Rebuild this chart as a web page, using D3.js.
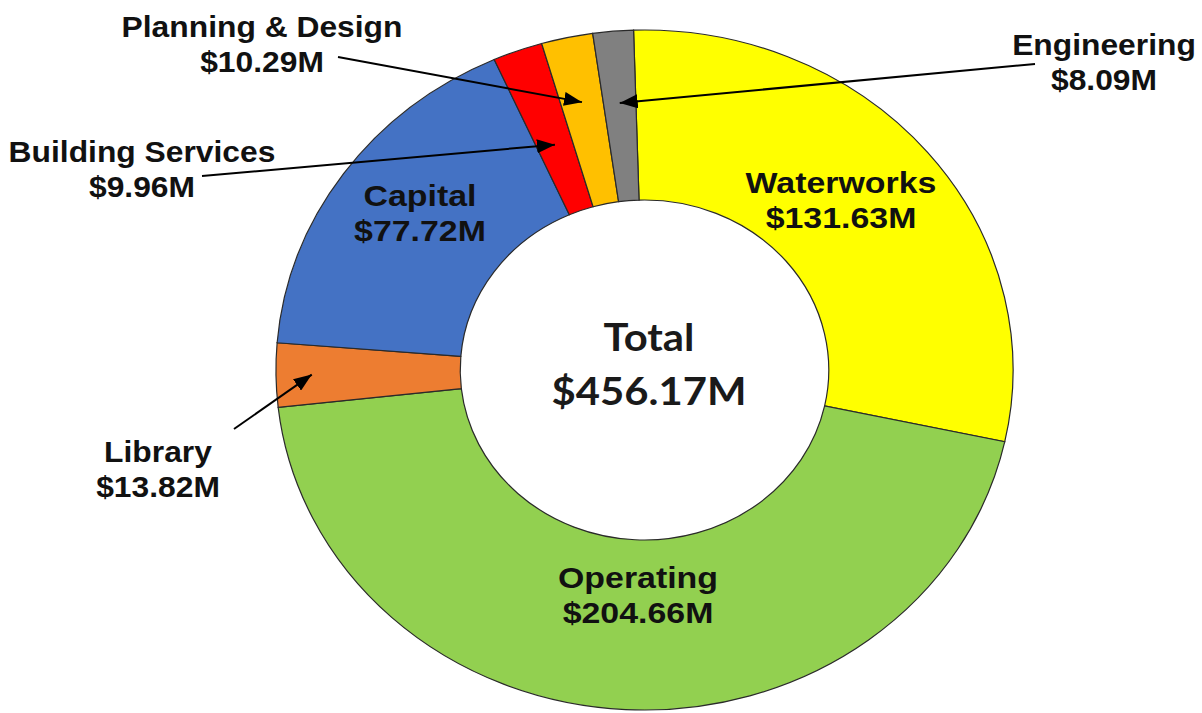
<!DOCTYPE html>
<html>
<head>
<meta charset="utf-8">
<script src="https://cdn.jsdelivr.net/npm/d3@7"></script>
<style>
  html, body { margin: 0; padding: 0; background: #fff; }
  svg { display: block; }
</style>
</head>
<body>
<svg id="chart" width="1202" height="713"></svg>
<script>
// Budget segments, clockwise from the top
const segments = ["Waterworks", "Operating", "Library", "Capital", "Building Services", "Planning & Design", "Engineering"];
const values   = [131.63, 204.66, 13.82, 77.72, 9.96, 10.29, 8.09];
const colors   = ["#FFFF00", "#92D050", "#ED7D31", "#4472C4", "#FF0000", "#FFC000", "#808080"];
const totalLabel = ["Total", "$456.17M"];

const W = 1202, H = 713;
const cx = 644.5, cy = 370;
const outerR = 340, innerR = 170;
const sx = 1.084;                       // the ring is drawn slightly wider than tall
const start = -1.7 * Math.PI / 180;

const svg = d3.select("#chart");
svg.append("rect").attr("width", W).attr("height", H).attr("fill", "#fff");

const pie = d3.pie().sort(null).value(d => d.value)
  .startAngle(start).endAngle(start + 2 * Math.PI);
const data = segments.map((name, i) => ({ name, value: values[i], color: colors[i] }));
const arcs = pie(data);
const arc = d3.arc().innerRadius(innerR).outerRadius(outerR);

const ring = svg.append("g").attr("transform", `translate(${cx},${cy}) scale(${sx},1)`);
ring.selectAll("path").data(arcs).join("path")
  .attr("d", arc)
  .attr("fill", d => d.data.color)
  .attr("stroke", "#2a2a2a")
  .attr("stroke-width", 1.2)
  .attr("vector-effect", "non-scaling-stroke");

const fmt = v => "$" + d3.format(".2f")(v) + "M";

// screen position of a point at radius r on a slice's middle angle
function onSlice(d, r) {
  const a = (d.startAngle + d.endAngle) / 2;
  return [cx + sx * r * Math.sin(a), cy - r * Math.cos(a)];
}

// label placement: inside labels sit on the ring, outside labels get an arrow
const labelLayout = {
  "Waterworks":        { x: 841, y: 193, inside: true },
  "Operating":         { x: 638, y: 588, inside: true },
  "Capital":           { x: 420, y: 206, inside: true },
  "Planning & Design": { x: 262, y: 37,  from: [338, 57],  tipR: 274 },
  "Building Services": { x: 142, y: 162, from: [202, 176], tipR: 240 },
  "Engineering":       { x: 1104, y: 55, from: [1035, 64], tipR: 268 },
  "Library":           { x: 158, y: 462, from: [234, 429], tipR: 307 }
};

const defs = svg.append("defs");
defs.append("marker")
  .attr("id", "head")
  .attr("markerUnits", "userSpaceOnUse")
  .attr("viewBox", "0 0 18 14")
  .attr("refX", 18).attr("refY", 7)
  .attr("markerWidth", 18).attr("markerHeight", 14)
  .attr("orient", "auto")
  .append("path").attr("d", "M0,0 L18,7 L0,14 Z").attr("fill", "#000");

const labels = svg.append("g");
arcs.forEach(d => {
  const L = labelLayout[d.data.name];
  if (!L.inside) {
    const tip = onSlice(d, L.tipR);
    labels.append("line")
      .attr("x1", L.from[0]).attr("y1", L.from[1])
      .attr("x2", tip[0]).attr("y2", tip[1])
      .attr("stroke", "#000").attr("stroke-width", 2)
      .attr("marker-end", "url(#head)");
  }
  const t = labels.append("text")
    .attr("transform", `translate(${L.x},${L.y}) scale(${L.inside ? 1.13 : 1.06},1)`)
    .attr("text-anchor", "middle")
    .attr("font-family", "'Liberation Sans', Arial, sans-serif")
    .attr("font-weight", "bold")
    .attr("font-size", 30)
    .attr("fill", "#111");
  t.append("tspan").attr("x", 0).attr("y", 0).text(d.data.name);
  t.append("tspan").attr("x", 0).attr("y", 35).text(fmt(d.data.value));
});

// centre total
const total = svg.append("text")
  .attr("transform", `translate(649,351) scale(1.1,1)`)
  .attr("text-anchor", "middle")
  .attr("font-family", "Lato, 'Open Sans', sans-serif")
  .attr("font-weight", 700)
  .attr("font-size", 38)
  .attr("fill", "#1a1a1a");
total.append("tspan").attr("x", 0).attr("y", 0).text(totalLabel[0]);
total.append("tspan").attr("x", 0).attr("y", 54).text(totalLabel[1]);
</script>
</body>
</html>
